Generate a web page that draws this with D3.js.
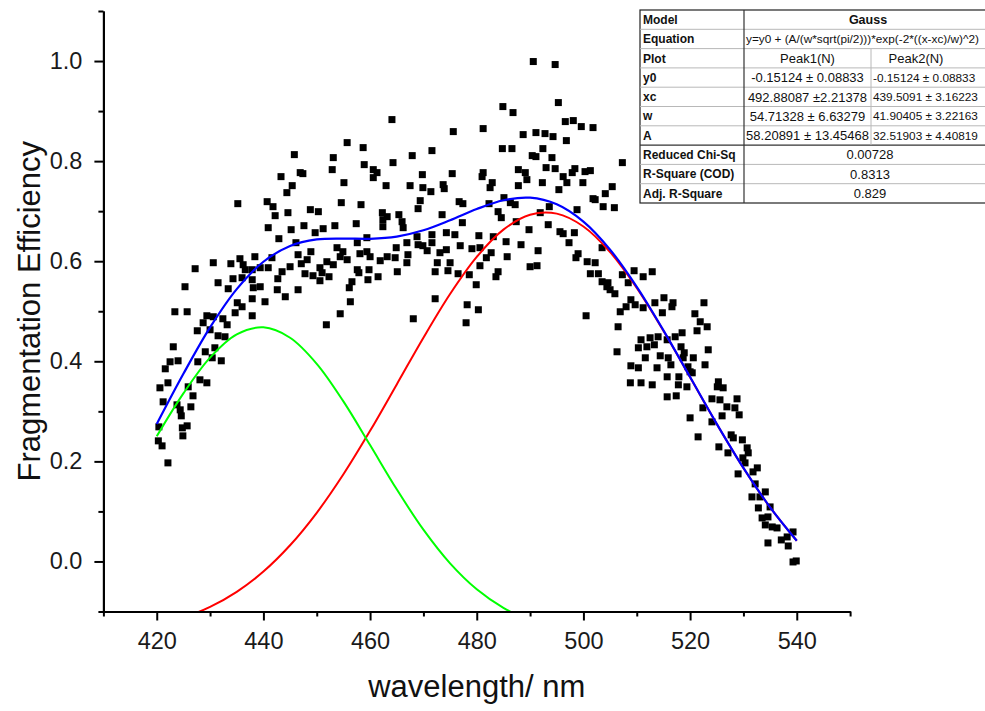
<!DOCTYPE html>
<html>
<head>
<meta charset="utf-8">
<script src="https://cdn.jsdelivr.net/npm/d3@7"></script>
<style>
  html, body { margin: 0; padding: 0; background: #ffffff; }
  svg { display: block; font-family: "Liberation Sans", Arial, sans-serif; }
</style>
</head>
<body>
<script>
// ---------------- DATA ----------------
// measured points [wavelength (nm), fragmentation efficiency]
const pointsRise = [[443.3,0.769],[445.4,0.751],[444.4,0.737],[435.2,0.715],[440.7,0.719],[441.8,0.709],[442.2,0.691],[444.6,0.697],[440.9,0.667],[445.2,0.663],[442.9,0.645],[430.6,0.597],[427.2,0.585],[433.9,0.595],[435.6,0.605],[436.2,0.593],[438.4,0.609],[441.6,0.607],[436.6,0.583],[437.9,0.583],[439.4,0.587],[440.9,0.587],[443.5,0.579],[445.0,0.589],[434.3,0.565],[436.0,0.567],[437.9,0.563],[439.4,0.549],[438.1,0.547],[442.7,0.565],[425.3,0.549],[431.5,0.557],[433.4,0.545],[442.6,0.543],[444.1,0.529],[437.9,0.525],[440.3,0.519],[435.1,0.517],[434.7,0.497],[436.0,0.509],[437.9,0.491],[423.4,0.499],[425.7,0.499],[429.4,0.491],[430.6,0.489],[428.7,0.477],[427.6,0.461],[430.0,0.463],[432.4,0.485],[433.2,0.473],[431.5,0.451],[432.8,0.449],[423.1,0.429],[429.1,0.419],[430.9,0.427],[422.5,0.399],[424.0,0.401],[427.7,0.399],[430.4,0.407],[432.1,0.401],[421.6,0.385],[428.1,0.363],[429.4,0.357],[425.9,0.349],[422.1,0.357],[420.6,0.347],[421.2,0.319],[426.8,0.331],[423.8,0.313],[424.4,0.303],[426.4,0.309],[424.6,0.291],[420.4,0.269],[425.7,0.271],[424.8,0.267],[424.9,0.251],[420.3,0.241],[421.0,0.231],[422.1,0.197]];
const pointsPlateau = [[464.1,0.883],[455.7,0.837],[458.7,0.827],[445.8,0.813],[453.1,0.807],[467.9,0.811],[471.6,0.821],[464.3,0.797],[458.9,0.793],[452.9,0.783],[460.6,0.783],[461.3,0.777],[460.6,0.767],[447.4,0.775],[469.8,0.773],[455.1,0.757],[463.0,0.751],[467.5,0.751],[469.9,0.747],[471.4,0.739],[469.4,0.721],[454.6,0.717],[458.3,0.713],[469.0,0.705],[448.8,0.703],[450.3,0.699],[462.3,0.697],[463.2,0.689],[465.4,0.693],[462.4,0.683],[466.0,0.679],[462.4,0.669],[466.2,0.667],[457.4,0.675],[453.4,0.671],[447.6,0.671],[451.2,0.665],[449.7,0.657],[459.4,0.647],[468.8,0.649],[471.6,0.653],[457.6,0.637],[466.9,0.637],[446.1,0.637],[469.0,0.633],[469.9,0.631],[453.8,0.627],[464.9,0.627],[470.7,0.621],[454.9,0.619],[448.9,0.619],[446.5,0.613],[458.1,0.615],[459.4,0.619],[467.1,0.613],[454.4,0.609],[460.0,0.609],[463.2,0.609],[464.7,0.607],[461.9,0.601],[448.2,0.603],[451.9,0.599],[455.7,0.603],[447.1,0.595],[450.6,0.587],[453.1,0.593],[466.9,0.597],[472.6,0.597],[457.6,0.583],[459.8,0.583],[472.2,0.579],[447.8,0.575],[449.3,0.571],[451.0,0.577],[452.3,0.569],[465.1,0.579],[457.9,0.577],[461.5,0.569],[450.6,0.561],[459.6,0.563],[456.6,0.559],[456.1,0.547],[446.5,0.543],[472.2,0.525],[456.3,0.519],[454.4,0.495],[468.1,0.485],[451.8,0.473],[446.9,0.777]];
const pointsPeak = [[490.6,0.999],[494.7,0.993],[495.3,0.917],[484.9,0.909],[486.8,0.897],[496.6,0.879],[498.1,0.881],[499.6,0.869],[501.8,0.867],[475.6,0.859],[481.2,0.865],[488.7,0.853],[491.1,0.857],[492.8,0.855],[494.3,0.849],[496.8,0.841],[484.8,0.825],[486.6,0.825],[492.4,0.825],[490.4,0.811],[491.1,0.809],[494.1,0.807],[493.0,0.787],[494.7,0.785],[487.8,0.783],[489.1,0.777],[489.4,0.763],[481.2,0.777],[481.0,0.769],[475.4,0.775],[496.2,0.769],[497.9,0.777],[498.4,0.785],[500.3,0.779],[501.3,0.781],[482.9,0.757],[482.5,0.747],[473.7,0.753],[473.9,0.745],[487.8,0.751],[492.3,0.757],[496.9,0.757],[499.9,0.757],[495.4,0.743],[504.1,0.735],[501.8,0.725],[485.1,0.727],[486.3,0.717],[487.2,0.713],[476.7,0.719],[477.4,0.715],[482.3,0.715],[484.0,0.699],[484.6,0.687],[493.6,0.709],[498.8,0.703],[503.7,0.709],[473.5,0.693],[487.4,0.679],[491.9,0.697],[477.3,0.677],[493.4,0.673],[489.8,0.663],[474.3,0.657],[475.9,0.653],[480.4,0.651],[483.1,0.649],[495.6,0.659],[496.2,0.655],[498.3,0.657],[497.3,0.637],[471.6,0.637],[476.9,0.631],[485.5,0.639],[488.3,0.633],[479.1,0.625],[480.6,0.627],[482.7,0.617],[474.3,0.623],[473.1,0.617],[503.5,0.627],[491.5,0.621],[481.8,0.607],[485.7,0.609],[499.0,0.615],[498.6,0.607],[475.0,0.597],[480.6,0.591],[500.7,0.599],[502.2,0.597],[491.3,0.591],[490.0,0.589],[474.6,0.581],[476.5,0.575],[478.6,0.573],[484.0,0.579],[483.6,0.569],[501.3,0.575],[502.8,0.575],[503.5,0.559],[504.4,0.549],[479.9,0.553],[478.2,0.513],[480.3,0.503],[478.0,0.477],[500.5,0.491]];
const pointsFall = [[507.3,0.797],[505.4,0.749],[502.2,0.723],[505.8,0.707],[504.6,0.557],[505.0,0.543],[505.9,0.535],[507.3,0.573],[508.4,0.557],[509.5,0.581],[511.2,0.569],[512.9,0.579],[508.9,0.523],[509.7,0.513],[508.0,0.509],[506.9,0.499],[511.2,0.507],[513.4,0.517],[515.1,0.527],[516.8,0.517],[516.6,0.509],[514.8,0.497],[522.6,0.517],[520.9,0.495],[521.9,0.479],[521.3,0.461],[523.2,0.469],[506.5,0.469],[510.8,0.443],[512.5,0.447],[514.0,0.449],[515.7,0.443],[517.2,0.449],[518.5,0.457],[510.3,0.427],[511.9,0.429],[513.3,0.433],[518.3,0.429],[523.4,0.423],[506.3,0.419],[511.6,0.407],[514.4,0.411],[515.9,0.407],[518.9,0.417],[518.7,0.407],[520.6,0.407],[508.9,0.391],[510.3,0.387],[513.8,0.387],[516.4,0.393],[519.6,0.389],[522.8,0.393],[515.7,0.369],[517.9,0.369],[520.4,0.377],[508.8,0.357],[510.8,0.357],[512.9,0.353],[517.8,0.353],[519.4,0.349],[525.3,0.359],[526.2,0.347],[515.7,0.329],[517.4,0.331],[524.1,0.325],[525.6,0.323],[522.4,0.307]];
const pointsTail = [[520.0,0.379],[528.8,0.325],[526.9,0.309],[528.4,0.307],[529.2,0.293],[526.0,0.291],[524.1,0.279],[520.0,0.287],[521.5,0.249],[527.7,0.253],[528.1,0.247],[529.8,0.243],[525.4,0.229],[527.1,0.217],[530.7,0.227],[530.9,0.217],[529.9,0.207],[530.3,0.197],[532.6,0.187],[531.8,0.179],[529.0,0.175],[532.2,0.155],[534.1,0.139],[531.6,0.129],[533.1,0.129],[532.8,0.107],[535.0,0.109],[533.5,0.087],[534.6,0.089],[534.1,0.073],[535.4,0.069],[536.3,0.067],[534.6,0.037],[537.1,0.043],[538.2,0.049],[539.3,0.059],[538.4,0.031],[539.9,0.001],[539.3,-0.001],[525.1,0.349]];

// fitted curves sampled along wavelength
const fitWavelength = [420,425,430,435,440,445,450,455,460,465,470,475,480,485,490,495,500,505,510,515,520,525,530,535,540];
const fitCumulative = [0.2746,0.3750,0.4678,0.5443,0.5989,0.6306,0.6435,0.6453,0.6448,0.6492,0.6618,0.6818,0.7042,0.7218,0.7269,0.7136,0.6790,0.6230,0.5488,0.4619,0.3685,0.2750,0.1869,0.1082,0.0414];
const fitPeak1 = [-0.1268,-0.1122,-0.0908,-0.0607,-0.0202,0.0323,0.0972,0.1742,0.2610,0.3538,0.4471,0.5344,0.6086,0.6631,0.6929,0.6951,0.6694,0.6183,0.5467,0.4609,0.3681,0.2749,0.1869,0.1082,0.0414];
const fitPeak2 = [0.2501,0.3359,0.4074,0.4538,0.4678,0.4471,0.3950,0.3199,0.2326,0.1442,0.0635,-0.0038,-0.0556,-0.0926,-0.1173,-0.1327];

// axis ticks
const xMajorTicks = [420,440,460,480,500,520,540];
const xMinorTicks = [410,430,450,470,490,510,530,550];
const yMajorTicks = [0.0,0.2,0.4,0.6,0.8,1.0];
const yMinorTicks = [-0.1,0.1,0.3,0.5,0.7,0.9,1.1];

// fit report table
const tableLabels = ["Model","Equation","Plot","y0","xc","w","A","Reduced Chi-Sq","R-Square (COD)","Adj. R-Square"];
const tablePeak1 = ["Peak1(N)","-0.15124 ± 0.08833","492.88087 ±2.21378","54.71328 ± 6.63279","58.20891 ± 13.45468"];
const tablePeak2 = ["Peak2(N)","-0.15124 ± 0.08833","439.5091 ± 3.16223","41.90405 ± 3.22163","32.51903 ± 4.40819"];
const tableModel = "Gauss";
const tableEquation = "y=y0 + (A/(w*sqrt(pi/2)))*exp(-2*((x-xc)/w)^2)";
const tableStats = ["0.00728","0.8313","0.829"];

// ---------------- CHART ----------------
const W = 985, H = 711;
const svg = d3.select("body").append("svg").attr("width", W).attr("height", H);

const x = d3.scaleLinear().domain([410, 550]).range([103.4, 850.1]);
const y = d3.scaleLinear().domain([-0.1, 1.1]).range([611.5, 11]);

svg.append("defs").append("clipPath").attr("id", "plotClip")
  .append("rect")
  .attr("x", x(410)).attr("y", y(1.1))
  .attr("width", x(550) - x(410)).attr("height", y(-0.1) - y(1.1));

// scatter
const allPoints = [].concat(pointsRise, pointsPlateau, pointsPeak, pointsFall, pointsTail);
const sq = 7;
svg.append("g").selectAll("rect").data(allPoints).join("rect")
  .attr("x", d => x(d[0]) - sq / 2)
  .attr("y", d => y(d[1]) - sq / 2)
  .attr("width", sq).attr("height", sq)
  .attr("fill", "#000");

// curves
const curveGroup = svg.append("g").attr("clip-path", "url(#plotClip)");
function drawCurve(values, color, width) {
  const pts = values.map((v, i) => [fitWavelength[i], v]);
  const line = d3.line().x(d => x(d[0])).y(d => y(d[1])).curve(d3.curveCatmullRom.alpha(0.5));
  curveGroup.append("path").attr("d", line(pts))
    .attr("fill", "none").attr("stroke", color).attr("stroke-width", width)
    .attr("stroke-linejoin", "round");
}
drawCurve(fitPeak1, "#ff0000", 2);
drawCurve(fitPeak2, "#00ff00", 2);
drawCurve(fitCumulative, "#0000ff", 2.2);

// axes
const tickFont = 23.5;
const gx = svg.append("g").attr("transform", `translate(0,${y(-0.1)})`)
  .call(d3.axisBottom(x).tickValues(xMajorTicks).tickFormat(d3.format("d"))
    .tickSize(9).tickSizeOuter(0).tickPadding(12));
const gxm = svg.append("g").attr("transform", `translate(0,${y(-0.1)})`)
  .call(d3.axisBottom(x).tickValues(xMinorTicks).tickFormat("").tickSize(5).tickSizeOuter(0));
const gy = svg.append("g").attr("transform", `translate(${x(410)},0)`)
  .call(d3.axisLeft(y).tickValues(yMajorTicks).tickFormat(d3.format(".1f"))
    .tickSize(9).tickSizeOuter(0).tickPadding(12));
const gym = svg.append("g").attr("transform", `translate(${x(410)},0)`)
  .call(d3.axisLeft(y).tickValues(yMinorTicks).tickFormat("").tickSize(5).tickSizeOuter(0));

[gx, gxm, gy, gym].forEach(g => {
  g.selectAll("path.domain").attr("stroke", "#000").attr("stroke-width", 2);
  g.selectAll(".tick line").attr("stroke", "#000").attr("stroke-width", 2);
  g.selectAll(".tick text").attr("fill", "#1a1a1a")
    .style("font-size", tickFont + "px")
    .style("font-family", '"Liberation Sans", Arial, sans-serif');
});

// axis titles
svg.append("text")
  .attr("transform", `translate(${(x(410) + x(550)) / 2 + 0},697)`)
  .attr("text-anchor", "middle")
  .style("font-size", "31px").attr("fill", "#111")
  .text("wavelength/ nm");
svg.append("text")
  .attr("transform", `translate(40,${(y(-0.1) + y(1.1)) / 2}) rotate(-90)`)
  .attr("text-anchor", "middle")
  .style("font-size", "31px").attr("fill", "#111")
  .text("Fragmentation Efficiency");

// ---------------- TABLE ----------------
const tx0 = 640, tc1 = 744, tc2 = 871, tx1 = 998;
const ty0 = 10, rowH = 19.3;
const table = svg.append("g");
const nRows = tableLabels.length;
table.append("rect").attr("x", tx0).attr("y", ty0)
  .attr("width", tx1 - tx0).attr("height", rowH * nRows)
  .attr("fill", "#fff").attr("stroke", "#222").attr("stroke-width", 1.2);

for (let i = 1; i < nRows; i++) {
  table.append("line").attr("x1", tx0).attr("x2", tx1)
    .attr("y1", ty0 + i * rowH).attr("y2", ty0 + i * rowH)
    .attr("stroke", i === 7 ? "#333" : "#b8b8b8").attr("stroke-width", i === 7 ? 1.2 : 1);
}
table.append("line").attr("x1", tc1).attr("x2", tc1)
  .attr("y1", ty0).attr("y2", ty0 + rowH * nRows).attr("stroke", "#333").attr("stroke-width", 1.2);
table.append("line").attr("x1", tc2).attr("x2", tc2)
  .attr("y1", ty0 + 2 * rowH).attr("y2", ty0 + 7 * rowH).attr("stroke", "#b8b8b8");

const rowMid = i => ty0 + (i + 0.5) * rowH;
table.selectAll("text.lab").data(tableLabels).join("text").attr("class", "lab")
  .attr("x", tx0 + 3).attr("y", (d, i) => rowMid(i)).attr("dy", "0.36em")
  .style("font-size", "12px").style("font-weight", "bold").attr("fill", "#111")
  .text(d => d);

table.append("text").attr("x", 868).attr("y", rowMid(0)).attr("dy", "0.36em")
  .attr("text-anchor", "middle").style("font-size", "12.5px").style("font-weight", "bold")
  .attr("fill", "#111").text(tableModel);
table.append("text").attr("x", tc1 + 2).attr("y", rowMid(1)).attr("dy", "0.36em")
  .style("font-size", "11.8px").attr("fill", "#111").text(tableEquation);

table.selectAll("text.p1").data(tablePeak1).join("text").attr("class", "p1")
  .attr("x", (tc1 + tc2) / 2).attr("y", (d, i) => rowMid(i + 2)).attr("dy", "0.36em")
  .attr("text-anchor", "middle").style("font-size", "13px").attr("fill", "#111")
  .text(d => d);
table.selectAll("text.p2").data(tablePeak2).join("text").attr("class", "p2")
  .attr("x", (d, i) => i === 0 ? 916 : tc2 + 2).attr("y", (d, i) => rowMid(i + 2)).attr("dy", "0.36em")
  .attr("text-anchor", (d, i) => i === 0 ? "middle" : "start")
  .style("font-size", (d, i) => i === 0 ? "13px" : "11.8px").attr("fill", "#111")
  .text(d => d);
table.selectAll("text.st").data(tableStats).join("text").attr("class", "st")
  .attr("x", 870).attr("y", (d, i) => rowMid(i + 7)).attr("dy", "0.36em")
  .attr("text-anchor", "middle").style("font-size", "13px").attr("fill", "#111")
  .text(d => d);
</script>
</body>
</html>
